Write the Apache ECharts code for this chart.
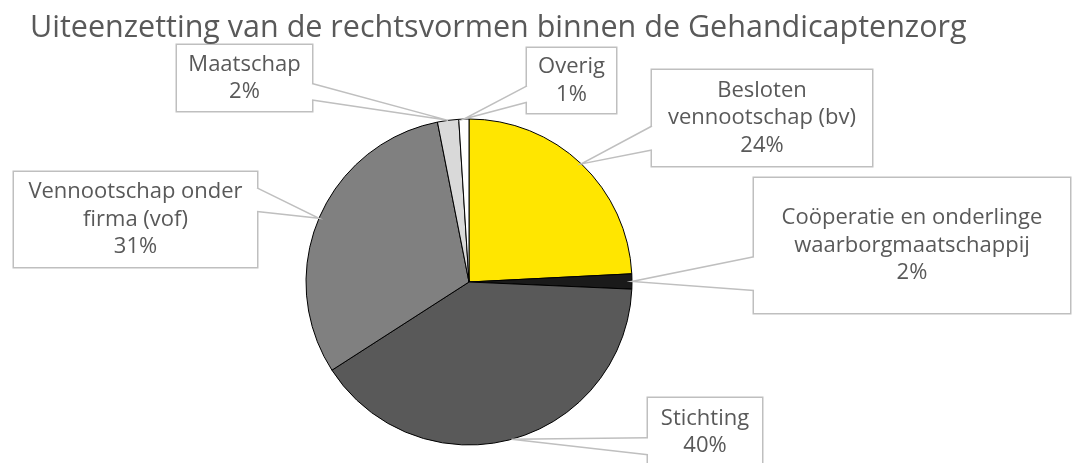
<!DOCTYPE html>
<html><head><meta charset="utf-8">
<script src="https://cdn.jsdelivr.net/npm/echarts@6/dist/echarts.min.js"></script>
<style>html,body{margin:0;padding:0;background:#fff}#c{width:1072px;height:463px}</style>
</head><body><div id="c"></div>
<script>
const titleText = 'Uiteenzetting van de rechtsvormen binnen de Gehandicaptenzorg';
const categories = ['Besloten vennootschap (bv)', 'Coöperatie en onderlinge waarborgmaatschappij', 'Stichting', 'Vennootschap onder firma (vof)', 'Maatschap', 'Overig'];
const labelLines = [
  ['Besloten', 'vennootschap (bv)'],
  ['Coöperatie en onderlinge', 'waarborgmaatschappij'],
  ['Stichting'],
  ['Vennootschap onder', 'firma (vof)'],
  ['Maatschap'],
  ['Overig']
];
const values = [24.2, 1.5, 40.2, 31.0, 2.1, 1.0];
const colors = ['#FFE600', '#1A1A1A', '#595959', '#808080', '#D9D9D9', '#FFFFFF'];

// label box layout: centre x, centre y, width, height (px)
const boxes = [
  [762, 118, 220, 96],
  [912, 245.5, 316, 135],
  [705, 432, 114, 68],
  [135.5, 219.5, 243, 95],
  [244.5, 78, 135, 66],
  [571.5, 80.5, 89, 65]
];

const FONT = 'Open Sans';
const LH = 27.5;
const PADX = 4;

const chart = echarts.init(document.getElementById('c'), null, {renderer: 'canvas'});

const data = values.map((v, i) => {
  const n = labelLines[i].length + 1;
  const padY = (boxes[i][3] - n * LH) / 2;
  return {
    name: categories[i],
    value: v,
    itemStyle: {color: colors[i]},
    label: {width: boxes[i][2] - 2 * PADX, padding: [padY, PADX, padY, PADX]}
  };
});

chart.setOption({
  animation: false,
  backgroundColor: '#fff',
  title: {
    text: titleText, left: 25, top: 8,
    textStyle: {fontSize: 30.5, fontWeight: 'normal', color: '#595959', fontFamily: FONT}
  },
  series: [{
    type: 'pie',
    center: [469, 282],
    radius: 163,
    startAngle: 90,
    clockwise: true,
    avoidLabelOverlap: false,
    itemStyle: {borderColor: '#000', borderWidth: 1},
    label: {
      show: true, position: 'outside',
      color: '#595959', fontFamily: FONT, fontSize: 22, lineHeight: LH,
      backgroundColor: '#fff', borderColor: '#BFBFBF', borderWidth: 1.5,
      align: 'center', overflow: 'none',
      formatter: p => labelLines[p.dataIndex].join('\n') + '\n' + Math.round(p.percent) + '%'
    },
    labelLine: {show: false},
    labelLayout: p => ({x: boxes[p.dataIndex][0], y: boxes[p.dataIndex][1], align: 'center', verticalAlign: 'middle'}),
    emphasis: {disabled: true},
    data: data
  }]
});

// wedge callouts, tips taken from the pie layout computed by ECharts
const sData = chart.getModel().getSeriesByIndex(0).getData();
const graphics = [];
for (let i = 0; i < values.length; i++) {
  const L = sData.getItemLayout(i);
  const mid = (L.startAngle + L.endAngle) / 2;
  const tip = [L.cx + L.r * Math.cos(mid), L.cy + L.r * Math.sin(mid)];
  const [bx, by, bw, bh] = boxes[i];
  const left = bx - bw / 2, right = bx + bw / 2, top = by - bh / 2;
  const onLeft = tip[0] < left;
  const side = onLeft ? left : right;
  const inner = onLeft ? side + 2.5 : side - 2.5;
  const f1 = tip[1] > by ? 7 / 12 : 2 / 12;
  const f2 = tip[1] > by ? 10 / 12 : 5 / 12;
  const y1 = top + bh * f1, y2 = top + bh * f2;
  graphics.push({
    type: 'polygon', z: 50, silent: true,
    shape: {points: [[inner, y1], [side, y1], tip, [side, y2], [inner, y2]]},
    style: {fill: '#fff', stroke: null}
  });
  graphics.push({
    type: 'polyline', z: 51, silent: true,
    shape: {points: [[side, y1], tip, [side, y2]]},
    style: {stroke: '#BFBFBF', lineWidth: 1.5, fill: null}
  });
}
chart.setOption({graphic: graphics});
</script>
</body></html>
